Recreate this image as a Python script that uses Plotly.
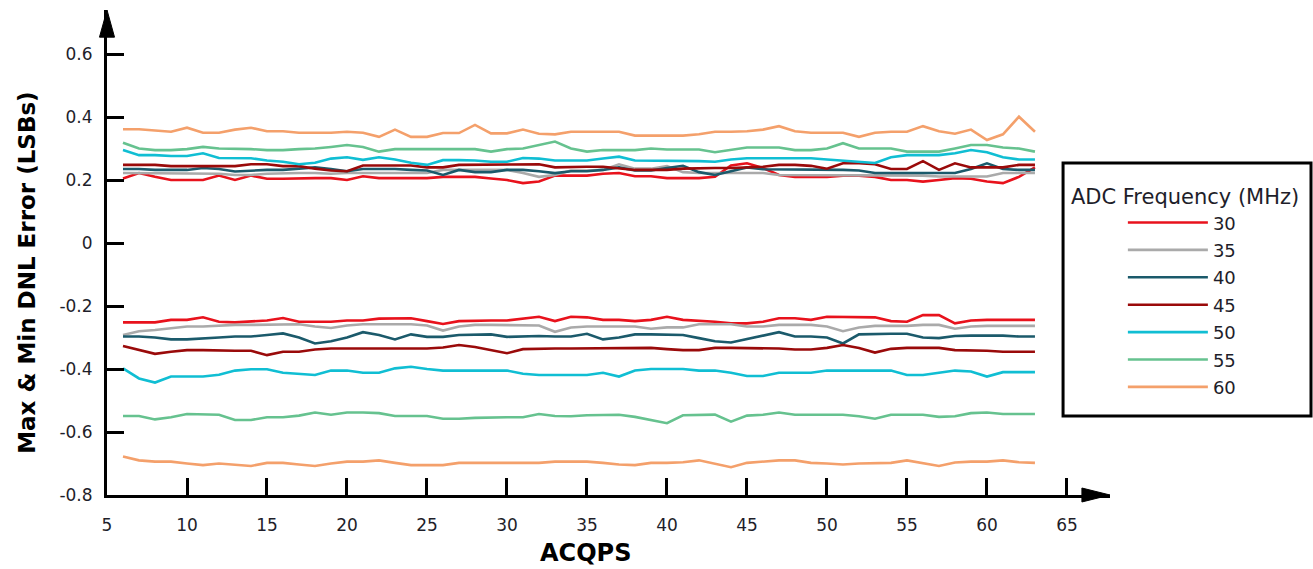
import plotly.graph_objects as go

acqps = list(range(6, 64))
freqs = ["30", "35", "40", "45", "50", "55", "60"]
colors = ["#E8121C", "#AAAAAA", "#1B5A6B", "#9A0A0A", "#10BED3", "#66C28F", "#F4A06B"]

x_ticks = [5, 10, 15, 20, 25, 30, 35, 40, 45, 50, 55, 60, 65]
y_ticks = [0.6, 0.4, 0.2, 0, -0.2, -0.4, -0.6, -0.8]
y_tick_text = ["0.6", "0.4", "0.2", "0", "-0.2", "-0.4", "-0.6", "-0.8"]

max_30 = [0.205, 0.222, 0.210, 0.200, 0.200, 0.200, 0.214, 0.200, 0.214, 0.204,
          0.204, 0.206, 0.206, 0.206, 0.200, 0.212, 0.206, 0.206, 0.206, 0.206,
          0.210, 0.210, 0.210, 0.205, 0.200, 0.190, 0.195, 0.214, 0.214, 0.214,
          0.220, 0.222, 0.212, 0.212, 0.206, 0.206, 0.206, 0.210, 0.246, 0.253,
          0.238, 0.216, 0.210, 0.210, 0.210, 0.214, 0.214, 0.210, 0.200, 0.200,
          0.195, 0.200, 0.206, 0.204, 0.195, 0.190, 0.210, 0.240]
max_35 = [0.222, 0.222, 0.222, 0.222, 0.222, 0.222, 0.220, 0.216, 0.216, 0.220,
          0.222, 0.222, 0.222, 0.220, 0.222, 0.222, 0.222, 0.224, 0.224, 0.222,
          0.232, 0.232, 0.232, 0.232, 0.232, 0.222, 0.210, 0.216, 0.230, 0.230,
          0.232, 0.250, 0.236, 0.236, 0.244, 0.225, 0.222, 0.222, 0.222, 0.222,
          0.222, 0.216, 0.216, 0.216, 0.216, 0.214, 0.214, 0.214, 0.214, 0.214,
          0.214, 0.211, 0.211, 0.211, 0.211, 0.222, 0.222, 0.222]
max_40 = [0.235, 0.235, 0.232, 0.232, 0.232, 0.238, 0.235, 0.227, 0.230, 0.232,
          0.232, 0.235, 0.240, 0.235, 0.228, 0.235, 0.235, 0.235, 0.232, 0.230,
          0.216, 0.232, 0.225, 0.225, 0.232, 0.232, 0.228, 0.222, 0.228, 0.228,
          0.232, 0.240, 0.230, 0.230, 0.238, 0.245, 0.225, 0.216, 0.228, 0.240,
          0.234, 0.234, 0.234, 0.234, 0.232, 0.232, 0.230, 0.222, 0.222, 0.222,
          0.222, 0.222, 0.222, 0.235, 0.253, 0.235, 0.232, 0.232]
max_45 = [0.248, 0.248, 0.248, 0.244, 0.244, 0.244, 0.244, 0.244, 0.250, 0.250,
          0.244, 0.244, 0.236, 0.230, 0.228, 0.246, 0.246, 0.246, 0.246, 0.240,
          0.240, 0.248, 0.248, 0.248, 0.248, 0.248, 0.250, 0.240, 0.242, 0.242,
          0.242, 0.238, 0.232, 0.232, 0.232, 0.236, 0.238, 0.238, 0.238, 0.240,
          0.242, 0.248, 0.248, 0.245, 0.236, 0.253, 0.253, 0.250, 0.235, 0.235,
          0.260, 0.232, 0.253, 0.240, 0.240, 0.240, 0.248, 0.248]
max_50 = [0.295, 0.279, 0.279, 0.276, 0.276, 0.285, 0.270, 0.269, 0.269, 0.262,
          0.258, 0.250, 0.255, 0.268, 0.272, 0.264, 0.272, 0.265, 0.255, 0.248,
          0.263, 0.263, 0.262, 0.258, 0.258, 0.270, 0.268, 0.262, 0.262, 0.262,
          0.268, 0.274, 0.262, 0.262, 0.262, 0.262, 0.260, 0.258, 0.265, 0.269,
          0.269, 0.269, 0.269, 0.269, 0.265, 0.262, 0.258, 0.254, 0.272, 0.279,
          0.279, 0.279, 0.285, 0.295, 0.288, 0.272, 0.265, 0.265]
max_55 = [0.318, 0.300, 0.295, 0.295, 0.298, 0.305, 0.300, 0.300, 0.298, 0.295,
          0.295, 0.298, 0.300, 0.305, 0.311, 0.305, 0.290, 0.298, 0.298, 0.298,
          0.298, 0.298, 0.298, 0.290, 0.298, 0.300, 0.311, 0.322, 0.300, 0.290,
          0.295, 0.295, 0.295, 0.300, 0.297, 0.297, 0.297, 0.288, 0.295, 0.303,
          0.303, 0.303, 0.295, 0.295, 0.300, 0.317, 0.300, 0.300, 0.300, 0.290,
          0.290, 0.290, 0.300, 0.311, 0.311, 0.303, 0.300, 0.290]
max_60 = [0.361, 0.361, 0.357, 0.353, 0.366, 0.350, 0.350, 0.360, 0.366, 0.355,
          0.355, 0.350, 0.350, 0.350, 0.353, 0.350, 0.337, 0.360, 0.337, 0.337,
          0.349, 0.349, 0.375, 0.348, 0.348, 0.360, 0.347, 0.345, 0.353, 0.353,
          0.353, 0.353, 0.341, 0.341, 0.341, 0.341, 0.345, 0.353, 0.353, 0.355,
          0.360, 0.371, 0.355, 0.350, 0.350, 0.350, 0.337, 0.350, 0.353, 0.353,
          0.371, 0.355, 0.347, 0.360, 0.327, 0.345, 0.401, 0.353]

min_30 = [-0.252, -0.252, -0.252, -0.244, -0.244, -0.236, -0.250, -0.252, -0.248, -0.246,
          -0.238, -0.250, -0.250, -0.250, -0.246, -0.246, -0.240, -0.239, -0.239, -0.248,
          -0.257, -0.248, -0.246, -0.246, -0.246, -0.240, -0.234, -0.248, -0.234, -0.236,
          -0.244, -0.244, -0.248, -0.244, -0.234, -0.244, -0.246, -0.250, -0.255, -0.255,
          -0.250, -0.239, -0.239, -0.244, -0.234, -0.234, -0.234, -0.236, -0.248, -0.250,
          -0.229, -0.229, -0.255, -0.246, -0.244, -0.244, -0.244, -0.244]
min_35 = [-0.292, -0.280, -0.276, -0.270, -0.265, -0.265, -0.262, -0.260, -0.260, -0.260,
          -0.258, -0.258, -0.265, -0.270, -0.262, -0.258, -0.258, -0.258, -0.258, -0.262,
          -0.278, -0.265, -0.260, -0.260, -0.260, -0.260, -0.262, -0.282, -0.268, -0.265,
          -0.265, -0.265, -0.265, -0.272, -0.268, -0.268, -0.258, -0.258, -0.258, -0.265,
          -0.265, -0.260, -0.260, -0.260, -0.265, -0.280, -0.268, -0.263, -0.263, -0.263,
          -0.260, -0.260, -0.272, -0.265, -0.263, -0.263, -0.263, -0.263]
min_40 = [-0.297, -0.297, -0.300, -0.306, -0.306, -0.304, -0.300, -0.297, -0.297, -0.292,
          -0.287, -0.300, -0.319, -0.312, -0.300, -0.283, -0.292, -0.306, -0.290, -0.298,
          -0.298, -0.292, -0.290, -0.290, -0.298, -0.297, -0.295, -0.297, -0.297, -0.288,
          -0.306, -0.300, -0.290, -0.290, -0.290, -0.292, -0.302, -0.312, -0.316, -0.305,
          -0.292, -0.283, -0.297, -0.297, -0.300, -0.319, -0.290, -0.288, -0.288, -0.288,
          -0.300, -0.302, -0.295, -0.294, -0.294, -0.294, -0.297, -0.297]
min_45 = [-0.327, -0.340, -0.352, -0.345, -0.340, -0.340, -0.342, -0.342, -0.342, -0.356,
          -0.345, -0.345, -0.338, -0.335, -0.335, -0.335, -0.335, -0.335, -0.335, -0.335,
          -0.332, -0.324, -0.330, -0.340, -0.350, -0.337, -0.335, -0.335, -0.335, -0.335,
          -0.333, -0.333, -0.333, -0.333, -0.337, -0.340, -0.340, -0.333, -0.333, -0.333,
          -0.333, -0.335, -0.338, -0.338, -0.333, -0.324, -0.333, -0.348, -0.336, -0.333,
          -0.333, -0.333, -0.340, -0.340, -0.342, -0.345, -0.345, -0.345]
min_50 = [-0.398, -0.430, -0.443, -0.424, -0.424, -0.424, -0.418, -0.405, -0.401, -0.401,
          -0.412, -0.415, -0.419, -0.405, -0.405, -0.412, -0.412, -0.398, -0.393, -0.400,
          -0.405, -0.405, -0.405, -0.405, -0.405, -0.415, -0.419, -0.419, -0.419, -0.419,
          -0.412, -0.424, -0.405, -0.400, -0.400, -0.400, -0.405, -0.405, -0.412, -0.422,
          -0.422, -0.412, -0.412, -0.412, -0.405, -0.405, -0.405, -0.405, -0.405, -0.419,
          -0.419, -0.412, -0.405, -0.408, -0.424, -0.410, -0.410, -0.410]
min_55 = [-0.549, -0.549, -0.560, -0.553, -0.543, -0.543, -0.545, -0.562, -0.562, -0.553,
          -0.553, -0.548, -0.538, -0.545, -0.538, -0.538, -0.540, -0.549, -0.549, -0.549,
          -0.558, -0.558, -0.555, -0.553, -0.553, -0.553, -0.543, -0.549, -0.550, -0.547,
          -0.545, -0.545, -0.552, -0.562, -0.572, -0.547, -0.545, -0.545, -0.567, -0.548,
          -0.545, -0.538, -0.545, -0.545, -0.545, -0.545, -0.550, -0.558, -0.545, -0.545,
          -0.545, -0.552, -0.550, -0.540, -0.538, -0.543, -0.543, -0.543]
min_60 = [-0.678, -0.690, -0.694, -0.694, -0.700, -0.705, -0.700, -0.705, -0.708, -0.698,
          -0.698, -0.703, -0.708, -0.700, -0.694, -0.694, -0.690, -0.698, -0.705, -0.705,
          -0.705, -0.698, -0.698, -0.698, -0.698, -0.698, -0.698, -0.694, -0.694, -0.694,
          -0.698, -0.703, -0.705, -0.698, -0.698, -0.696, -0.690, -0.700, -0.712, -0.698,
          -0.694, -0.690, -0.690, -0.698, -0.700, -0.703, -0.700, -0.700, -0.698, -0.690,
          -0.700, -0.708, -0.697, -0.694, -0.694, -0.690, -0.696, -0.698]

max_series = [max_30, max_35, max_40, max_45, max_50, max_55, max_60]
min_series = [min_30, min_35, min_40, min_45, min_50, min_55, min_60]

FONT = "DejaVu Sans, Verdana, sans-serif"
TXT = "#1e1e2a"

fig = go.Figure()
for f, c, mx, mn in zip(freqs, colors, max_series, min_series):
    fig.add_trace(go.Scatter(x=acqps, y=mx, mode="lines", name=f, legendgroup=f,
                             line=dict(color=c, width=2.6), showlegend=True))
    fig.add_trace(go.Scatter(x=acqps, y=mn, mode="lines", name=f, legendgroup=f,
                             line=dict(color=c, width=2.6), showlegend=False))

fig.update_layout(
    width=1313, height=569,
    margin=dict(l=107, r=203, t=10, b=74),
    paper_bgcolor="white", plot_bgcolor="white",
    font=dict(family=FONT, size=18, color=TXT),
    xaxis=dict(range=[5, 67.69], tickvals=x_ticks, ticks="inside", ticklen=17,
               tickwidth=3, tickcolor="black", showline=True, linecolor="black",
               linewidth=3, showgrid=False, zeroline=False,
               tickfont=dict(family=FONT, size=17, color=TXT), ticklabelstandoff=13),
    yaxis=dict(range=[-0.8, 0.7397], tickvals=y_ticks, ticktext=y_tick_text,
               ticks="inside", ticklen=17, tickwidth=3, tickcolor="black",
               showline=True, linecolor="black", linewidth=3, showgrid=False,
               zeroline=False, tickfont=dict(family=FONT, size=17, color=TXT),
               ticklabelstandoff=8),
    legend=dict(x=0.959, y=0.6557, xanchor="left", yanchor="top",
                borderwidth=0, bgcolor="rgba(0,0,0,0)",
                title=dict(text="ADC Frequency (MHz)", side="top",
                           font=dict(family=FONT, size=21, color=TXT)),
                font=dict(family=FONT, size=18, color=TXT),
                itemwidth=80, indentation=54, tracegroupgap=1),
    shapes=[
        dict(type="rect", xref="paper", yref="paper", x0=0.9532, x1=1.2004,
             y0=0.1629, y1=0.6845, line=dict(color="black", width=3),
             fillcolor="white", layer="below"),
        dict(type="path", xref="paper", yref="paper",
             path="M -0.0075 0.944 L 0 1 L 0.0075 0.944 Z",
             fillcolor="black", line=dict(color="black", width=1)),
        dict(type="path", xref="paper", yref="paper",
             path="M 0.972 -0.0144 L 1 0 L 0.972 0.0144 Z",
             fillcolor="black", line=dict(color="black", width=1)),
    ],
    annotations=[
        dict(text="<b>Max & Min DNL Error (LSBs)</b>", xref="paper", yref="paper",
             x=-0.0798, y=0.46, xanchor="center", yanchor="middle", textangle=-90,
             showarrow=False, font=dict(family=FONT, size=23, color="black")),
        dict(text="<b>ACQPS</b>", xref="paper", yref="paper",
             x=0.4766, y=-0.1196, xanchor="center", yanchor="middle", showarrow=False,
             font=dict(family=FONT, size=24, color="black")),
    ],
)

fig.write_html("out.html")
